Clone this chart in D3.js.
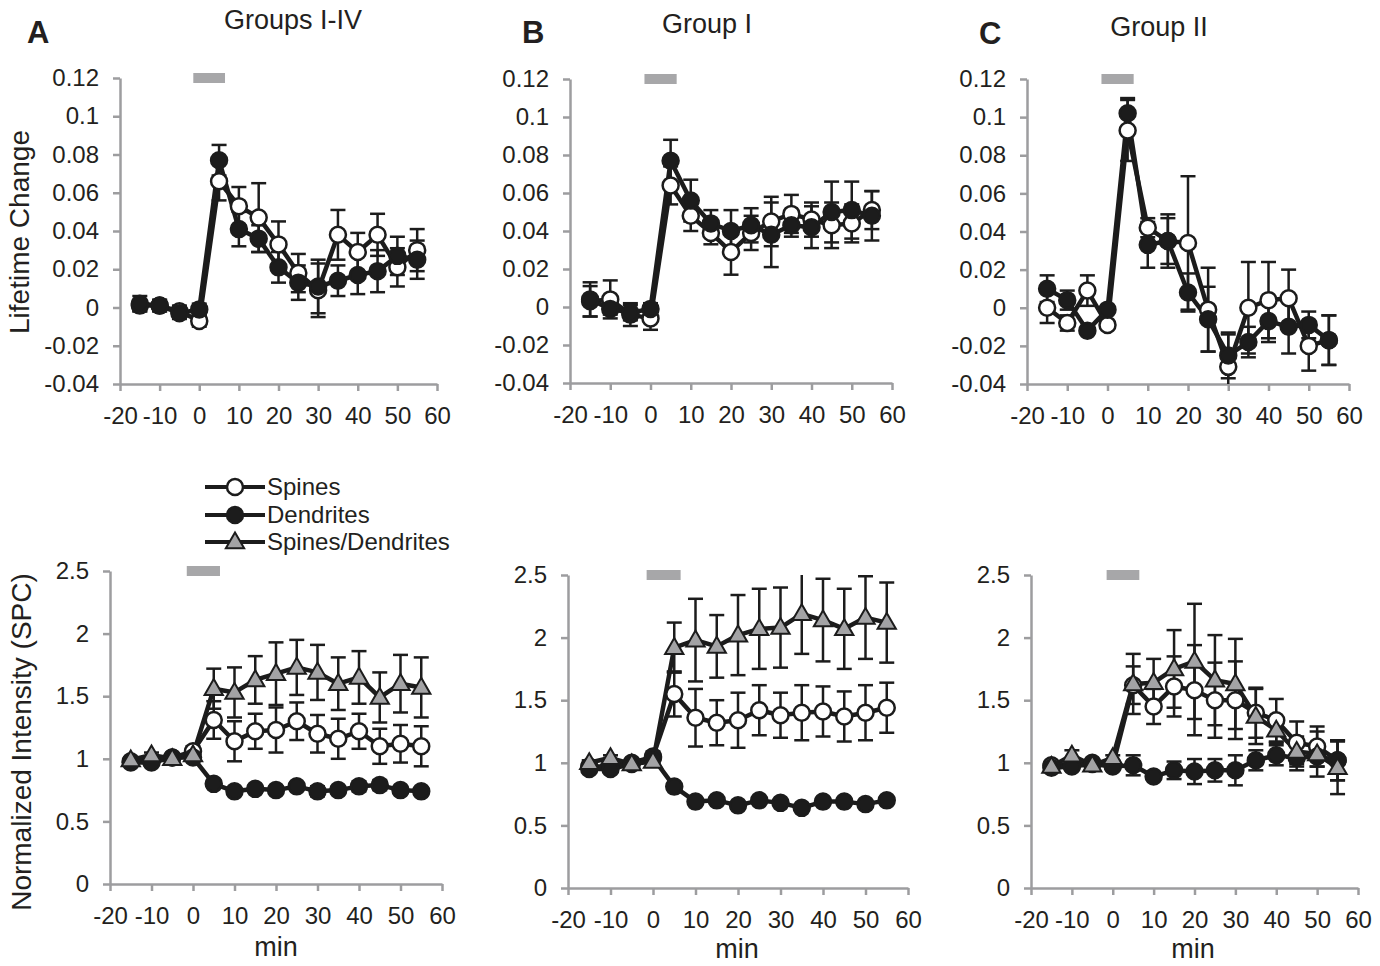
<!DOCTYPE html>
<html>
<head>
<meta charset="utf-8">
<script src="https://cdn.jsdelivr.net/npm/d3@7"></script>
<style>
  body { margin: 0; background: #fff; }
  text { font-family: "Liberation Sans", Arial, sans-serif; fill: #231f20; }
</style>
</head>
<body>
<svg id="fig" width="1380" height="966"></svg>
<script>
// time points (min) and axis ticks
var minutes = [-15, -10, -5, 0, 5, 10, 15, 20, 25, 30, 35, 40, 45, 50, 55];
var xTicks = [-20, -10, 0, 10, 20, 30, 40, 50, 60];
var lifeTicks = [-0.04, -0.02, 0, 0.02, 0.04, 0.06, 0.08, 0.1, 0.12];
var intTicks = [0, 0.5, 1, 1.5, 2, 2.5];
var stimWindow = [-1.5, 6.5];

// legend / titles
var seriesNames = ["Spines", "Dendrites", "Spines/Dendrites"];
var panelLetters = ["A", "B", "C"];
var panelTitles = ["Groups I-IV", "Group I", "Group II"];

// lifetime change, Groups I-IV
var lifeSpinesA    = [0.001, 0.001, -0.002, -0.007, 0.066, 0.053, 0.047, 0.033, 0.018, 0.009, 0.038, 0.029, 0.038, 0.021, 0.030];
var lifeSpinesErrA = [0.003, 0.003, 0.003, 0.003, 0.010, 0.010, 0.018, 0.012, 0.010, 0.014, 0.013, 0.010, 0.011, 0.010, 0.011];
var lifeDendA      = [0.002, 0.001, -0.003, -0.001, 0.077, 0.041, 0.036, 0.021, 0.013, 0.011, 0.014, 0.017, 0.019, 0.027, 0.025];
var lifeDendErrA   = [0.004, 0.003, 0.003, 0.003, 0.008, 0.009, 0.007, 0.008, 0.009, 0.014, 0.008, 0.010, 0.011, 0.010, 0.010];

// lifetime change, Group I
var lifeSpinesB    = [0.003, 0.004, -0.004, -0.006, 0.064, 0.048, 0.039, 0.029, 0.039, 0.045, 0.049, 0.046, 0.043, 0.044, 0.051];
var lifeSpinesErrB = [0.008, 0.010, 0.006, 0.006, 0.010, 0.008, 0.006, 0.012, 0.009, 0.013, 0.010, 0.009, 0.012, 0.010, 0.010];
var lifeDendB      = [0.004, -0.001, -0.003, -0.001, 0.077, 0.056, 0.044, 0.040, 0.043, 0.038, 0.043, 0.042, 0.050, 0.051, 0.048];
var lifeDendErrB   = [0.009, 0.003, 0.004, 0.003, 0.011, 0.011, 0.007, 0.011, 0.009, 0.017, 0.006, 0.011, 0.016, 0.015, 0.013];

// lifetime change, Group II
var lifeSpinesC    = [0.000, -0.008, 0.009, -0.009, 0.093, 0.042, 0.035, 0.034, -0.001, -0.031, 0.000, 0.004, 0.005, -0.020, -0.017];
var lifeSpinesErrC = [0.008, 0.004, 0.008, 0.002, 0.016, 0.005, 0.012, 0.035, 0.022, 0.017, 0.024, 0.020, 0.015, 0.013, 0.013];
var lifeDendC      = [0.010, 0.004, -0.012, -0.001, 0.102, 0.033, 0.035, 0.008, -0.006, -0.025, -0.018, -0.007, -0.010, -0.009, -0.017];
var lifeDendErrC   = [0.007, 0.005, 0.002, 0.002, 0.008, 0.012, 0.014, 0.010, 0.017, 0.012, 0.008, 0.011, 0.014, 0.007, 0.013];

// normalized intensity, Groups I-IV
var intSpinesA    = [0.98, 0.98, 1.01, 1.06, 1.31, 1.14, 1.22, 1.23, 1.30, 1.20, 1.16, 1.22, 1.10, 1.12, 1.10];
var intSpinesErrA = [0.03, 0.03, 0.03, 0.04, 0.15, 0.16, 0.14, 0.18, 0.15, 0.15, 0.16, 0.14, 0.14, 0.15, 0.16];
var intDendA      = [0.97, 0.97, 1.01, 1.01, 0.80, 0.74, 0.76, 0.75, 0.78, 0.74, 0.75, 0.78, 0.79, 0.75, 0.74];
var intDendErrA   = [0.02, 0.02, 0.02, 0.02, 0.03, 0.03, 0.03, 0.03, 0.03, 0.04, 0.03, 0.04, 0.04, 0.03, 0.03];
var intRatioA     = [0.99, 1.03, 1.00, 1.03, 1.56, 1.53, 1.63, 1.68, 1.73, 1.69, 1.60, 1.65, 1.49, 1.60, 1.57];
var intRatioErrA  = [0.02, 0.02, 0.02, 0.02, 0.16, 0.20, 0.19, 0.25, 0.22, 0.22, 0.21, 0.21, 0.20, 0.23, 0.24];

// normalized intensity, Group I
var intSpinesB    = [0.97, 0.97, 1.00, 1.05, 1.55, 1.36, 1.32, 1.34, 1.42, 1.38, 1.40, 1.41, 1.37, 1.40, 1.44];
var intSpinesErrB = [0.03, 0.03, 0.03, 0.04, 0.18, 0.23, 0.18, 0.22, 0.20, 0.18, 0.22, 0.20, 0.20, 0.22, 0.20];
var intDendB      = [0.95, 0.95, 0.99, 1.04, 0.81, 0.69, 0.70, 0.66, 0.70, 0.68, 0.64, 0.69, 0.69, 0.67, 0.70];
var intDendErrB   = [0.02, 0.02, 0.02, 0.02, 0.02, 0.03, 0.02, 0.02, 0.02, 0.02, 0.02, 0.03, 0.03, 0.02, 0.03];
var intRatioB     = [1.00, 1.04, 0.99, 1.01, 1.92, 1.98, 1.93, 2.02, 2.07, 2.08, 2.19, 2.14, 2.07, 2.16, 2.12];
var intRatioErrB  = [0.02, 0.02, 0.02, 0.02, 0.20, 0.33, 0.25, 0.32, 0.32, 0.32, 0.32, 0.33, 0.32, 0.33, 0.32];

// normalized intensity, Group II
var intSpinesC    = [0.98, 0.98, 1.00, 0.98, 1.62, 1.45, 1.61, 1.58, 1.50, 1.50, 1.40, 1.34, 1.16, 1.13, 1.02];
var intSpinesErrC = [0.03, 0.03, 0.03, 0.03, 0.15, 0.14, 0.24, 0.36, 0.30, 0.31, 0.20, 0.17, 0.17, 0.16, 0.16];
var intDendC      = [0.96, 0.97, 0.99, 0.97, 0.98, 0.89, 0.94, 0.93, 0.94, 0.94, 1.02, 1.06, 1.04, 1.05, 1.02];
var intDendErrC   = [0.02, 0.03, 0.02, 0.03, 0.08, 0.02, 0.07, 0.10, 0.09, 0.12, 0.08, 0.08, 0.10, 0.08, 0.16];
var intRatioC     = [0.97, 1.06, 0.98, 1.04, 1.63, 1.64, 1.75, 1.81, 1.66, 1.63, 1.37, 1.26, 1.09, 1.07, 0.96];
var intRatioErrC  = [0.02, 0.04, 0.02, 0.02, 0.24, 0.19, 0.31, 0.46, 0.36, 0.36, 0.22, 0.10, 0.12, 0.18, 0.21];


var ink = "#1c1c1c",
    axisGray = "#9d9d9f",
    barGray = "#a7a7a9",
    triGray = "#a3a3a5";

var svg = d3.select("#fig");

var panels = [
  {id: "tA", box: [120, 437, 78, 384], ticks: lifeTicks, series: [
    {kind: "open", v: lifeSpinesA, e: lifeSpinesErrA}, {kind: "filled", v: lifeDendA, e: lifeDendErrA}]},
  {id: "tB", box: [570, 892, 79, 383], ticks: lifeTicks, series: [
    {kind: "open", v: lifeSpinesB, e: lifeSpinesErrB}, {kind: "filled", v: lifeDendB, e: lifeDendErrB}]},
  {id: "tC", box: [1027, 1349, 79, 384], ticks: lifeTicks, series: [
    {kind: "open", v: lifeSpinesC, e: lifeSpinesErrC}, {kind: "filled", v: lifeDendC, e: lifeDendErrC}]},
  {id: "bA", box: [110, 442, 571, 884], ticks: intTicks, series: [
    {kind: "open", v: intSpinesA, e: intSpinesErrA}, {kind: "filled", v: intDendA, e: intDendErrA},
    {kind: "tri", v: intRatioA, e: intRatioErrA}]},
  {id: "bB", box: [568, 908, 575, 888], ticks: intTicks, series: [
    {kind: "open", v: intSpinesB, e: intSpinesErrB}, {kind: "filled", v: intDendB, e: intDendErrB},
    {kind: "tri", v: intRatioB, e: intRatioErrB}]},
  {id: "bC", box: [1031, 1358, 575, 888], ticks: intTicks, series: [
    {kind: "open", v: intSpinesC, e: intSpinesErrC}, {kind: "filled", v: intDendC, e: intDendErrC},
    {kind: "tri", v: intRatioC, e: intRatioErrC}]}
];

var tri = d3.symbol().type(d3.symbolTriangle).size(145);

function drawMarker(g, kind, cx, cy) {
  if (kind == "tri") {
    g.append("path")
      .attr("d", tri)
      .attr("transform", "translate(" + cx + "," + (cy + 1) + ")")
      .attr("fill", triGray)
      .attr("stroke", ink)
      .attr("stroke-width", 2);
  } else {
    g.append("circle")
      .attr("cx", cx).attr("cy", cy).attr("r", 8)
      .attr("fill", kind == "open" ? "#fff" : ink)
      .attr("stroke", ink)
      .attr("stroke-width", 2.5);
  }
}

panels.forEach(function(p) {
  var x = d3.scaleLinear().domain([-20, 60]).range([p.box[0], p.box[1]]);
  var yDom = d3.extent(p.ticks);
  var y = d3.scaleLinear().domain(yDom).range([p.box[3], p.box[2]]);

  svg.append("clipPath").attr("id", "clip-" + p.id)
    .append("rect")
      .attr("x", p.box[0]).attr("y", p.box[2])
      .attr("width", p.box[1] - p.box[0]).attr("height", p.box[3] - p.box[2]);

  // axes
  var yAxis = svg.append("g")
      .attr("transform", "translate(" + p.box[0] + ",0)")
      .call(d3.axisLeft(y).tickValues(p.ticks).tickSize(7).tickSizeOuter(0).tickPadding(14).tickFormat(String));
  var xAxis = svg.append("g")
      .attr("transform", "translate(0," + p.box[3] + ")")
      .call(d3.axisBottom(x).tickValues(xTicks).tickSize(7).tickSizeOuter(0).tickPadding(16).tickFormat(String));
  [yAxis, xAxis].forEach(function(a) {
    a.attr("font-size", 24).attr("font-family", "Liberation Sans, Arial, sans-serif");
    a.selectAll("path, line").attr("stroke", axisGray).attr("stroke-width", 2.5);
    a.selectAll("text").attr("fill", "#231f20");
  });

  // stimulation bar
  svg.append("rect")
    .attr("x", x(stimWindow[0]))
    .attr("y", y(yDom[1]) - 5)
    .attr("width", x(stimWindow[1]) - x(stimWindow[0]))
    .attr("height", 10)
    .attr("fill", barGray);

  var plot = svg.append("g").attr("clip-path", "url(#clip-" + p.id + ")");

  var line = d3.line()
      .x(function(d, i) { return x(minutes[i]); })
      .y(function(d) { return y(d); });

  p.series.forEach(function(s) {
    var g = plot.append("g");
    // error bars
    s.v.forEach(function(v, i) {
      var cx = x(minutes[i]), lo = y(v - s.e[i]), hi = y(v + s.e[i]);
      g.append("line").attr("x1", cx).attr("x2", cx).attr("y1", lo).attr("y2", hi)
        .attr("stroke", ink).attr("stroke-width", 2.5);
      [lo, hi].forEach(function(yy) {
        g.append("line").attr("x1", cx - 7.5).attr("x2", cx + 7.5).attr("y1", yy).attr("y2", yy)
          .attr("stroke", ink).attr("stroke-width", 2.5);
      });
    });
    g.append("path")
      .attr("d", line(s.v))
      .attr("fill", "none")
      .attr("stroke", ink)
      .attr("stroke-width", 4.5)
      .attr("stroke-linejoin", "round");
  });
  // markers on top
  p.series.forEach(function(s) {
    var g = svg.append("g");
    s.v.forEach(function(v, i) { drawMarker(g, s.kind, x(minutes[i]), y(v)); });
  });
});

// panel letters and titles
var letterX = [27, 522, 979], letterY = [43, 43, 44];
var titleX = [293, 707, 1159], titleY = [29, 33, 36];
panelLetters.forEach(function(l, i) {
  svg.append("text").attr("x", letterX[i]).attr("y", letterY[i])
    .attr("font-size", 31).attr("font-weight", "bold").text(l);
  svg.append("text").attr("x", titleX[i]).attr("y", titleY[i])
    .attr("text-anchor", "middle").attr("font-size", 27).text(panelTitles[i]);
});

// axis titles
svg.append("text")
  .attr("transform", "translate(29,232) rotate(-90)")
  .attr("text-anchor", "middle").attr("font-size", 28).text("Lifetime Change");
svg.append("text")
  .attr("transform", "translate(31,742) rotate(-90)")
  .attr("text-anchor", "middle").attr("font-size", 28).text("Normalized Intensity (SPC)");
[[276, 956], [737, 958], [1193, 958]].forEach(function(pos) {
  svg.append("text").attr("x", pos[0]).attr("y", pos[1])
    .attr("text-anchor", "middle").attr("font-size", 27).text("min");
});

// legend
var legendKinds = ["open", "filled", "tri"];
var legendY = [487, 515, 542];
seriesNames.forEach(function(name, i) {
  var g = svg.append("g");
  g.append("line").attr("x1", 205).attr("x2", 265).attr("y1", legendY[i]).attr("y2", legendY[i])
    .attr("stroke", ink).attr("stroke-width", 4);
  drawMarker(g, legendKinds[i], 235, legendY[i]);
  g.append("text").attr("x", 267).attr("y", legendY[i]).attr("dy", "0.35em")
    .attr("font-size", 24).text(name);
});
</script>
</body>
</html>
